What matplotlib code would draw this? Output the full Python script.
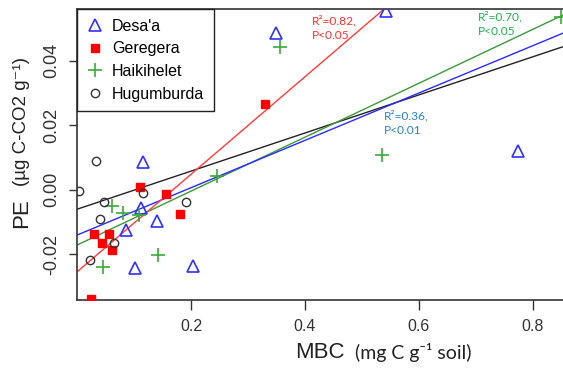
import numpy as np
import matplotlib
matplotlib.use("Agg")
import matplotlib.pyplot as plt

# data (MBC in mg C/g soil, PE in ug C-CO2/g)
desaa_x = [0.116, 0.112, 0.140, 0.086, 0.102, 0.204, 0.349, 0.543, 0.774]
desaa_y = [0.0087, -0.0056, -0.0097, -0.0124, -0.0242, -0.0236, 0.0486, 0.0555, 0.0121]

geregera_x = [0.111, 0.156, 0.181, 0.030, 0.057, 0.044, 0.061, 0.024, 0.330]
geregera_y = [0.0008, -0.0014, -0.0074, -0.0138, -0.0137, -0.0165, -0.0186, -0.0337, 0.0265]

haik_x = [0.062, 0.080, 0.109, 0.046, 0.143, 0.246, 0.357, 0.536, 0.849]
haik_y = [-0.0050, -0.0072, -0.0078, -0.0238, -0.0203, 0.0044, 0.0443, 0.0107, 0.0535]

hug_x = [0.033, 0.003, 0.047, 0.040, 0.116, 0.065, 0.022, 0.192]
hug_y = [0.0089, -0.0004, -0.0037, -0.0090, -0.0009, -0.0163, -0.0217, -0.0037]

# fitted lines (intercept, slope) as drawn in the figure
fit_desaa = (-0.0140, 0.0733)
fit_geregera = (-0.0254, 0.151)
fit_haik = (-0.0171, 0.0835)
fit_hug = (-0.0060, 0.059)

W, H = 563, 369
fig = plt.figure(figsize=(W / 100, H / 100), dpi=100)
ax = fig.add_axes([77 / W, 1 - 300 / H, 1 - 77 / W, (300 - 9) / H])

xlim = (0.0, 0.853)
ylim = (-0.0341, 0.0560)
xx = np.array(xlim)

# regression lines
ax.plot(xx, fit_hug[0] + fit_hug[1] * xx, color="#222222", lw=1.0, zorder=2)
ax.plot(xx, fit_haik[0] + fit_haik[1] * xx, color="#3c9a3c", lw=1.0, zorder=2)
ax.plot(xx, fit_desaa[0] + fit_desaa[1] * xx, color="#2a2aff", lw=1.0, zorder=2)
ax.plot(xx, fit_geregera[0] + fit_geregera[1] * xx, color="#ff3b3b", lw=1.0, zorder=2)

# points
h1, = ax.plot(desaa_x, desaa_y, ls="none", marker="^", ms=8, mfc="none",
              mec="#3030ff", mew=1.2, label="Desa'a", zorder=3)
h2, = ax.plot(geregera_x, geregera_y, ls="none", marker="s", ms=6, mfc="#ff0000",
              mec="#ff0000", label="Geregera", zorder=3)
h3, = ax.plot(haik_x, haik_y, ls="none", marker="+", ms=10, mec="#3aaa3a",
              mew=1.2, label="Haikihelet", zorder=3)
h4, = ax.plot(hug_x, hug_y, ls="none", marker="o", ms=6, mfc="none",
              mec="#333333", mew=1.0, label="Hugumburda", zorder=3)

ax.set_xlim(xlim)
ax.set_ylim(ylim)
ax.set_xticks([0.2, 0.4, 0.6, 0.8])
ax.set_xticklabels(["0.2", "0.4", "0.6", "0.8"])
ax.set_yticks([-0.02, 0.0, 0.02, 0.04])
ax.set_yticklabels(["-0.02", "0.00", "0.02", "0.04"], rotation=90, va="center")

for s in ["left", "bottom", "top"]:
    ax.spines[s].set_color("#333333")
    ax.spines[s].set_linewidth(1.2)
ax.spines["right"].set_visible(False)

ax.tick_params(axis="x", direction="out", length=7, width=1.0, color="#333333",
               pad=7, labelsize=11.5, labelcolor="#333333")
ax.tick_params(axis="y", direction="out", length=6, width=1.0, color="#333333",
               pad=6, labelsize=13, labelcolor="#333333")
for lab in ax.get_xticklabels() + ax.get_yticklabels():
    lab.set_fontfamily("Liberation Sans")

leg = ax.legend(handles=[h1, h2, h3, h4], loc="upper left", bbox_to_anchor=(0, 1),
                borderaxespad=0, fancybox=False, framealpha=1, edgecolor="#222222",
                prop={"family": "Liberation Sans", "size": 11.5},
                handlelength=1.0, handletextpad=0.6, labelspacing=0.48,
                borderpad=0.6)
leg.get_frame().set_linewidth(1.0)
leg.set_zorder(5)

# annotations
ann_font = ["Lato", "DejaVu Sans"]
ax.text((312 - 77) / 570, (189.8 - 28) / 3230, "R²=0.82,\nP<0.05", color="#ff3030",
        fontsize=8.6, family=ann_font, va="center", linespacing=1.45)
ax.text((478 - 77) / 570, (189.8 - 24) / 3230, "R²=0.70,\nP<0.05", color="#22b050",
        fontsize=8.6, family=ann_font, va="center", linespacing=1.45)
ax.text((384 - 77) / 570, (189.8 - 123) / 3230, "R²=0.36,\nP<0.01", color="#2a80d0",
        fontsize=8.6, family=ann_font, va="center", linespacing=1.45)

# axis labels, two font sizes each
fig.text(295 / W, 1 - 352 / H, "MBC", fontsize=16, family="Liberation Sans",
         color="#222222", ha="left", va="center")
fig.text(355 / W, 1 - 352 / H, "(mg C g⁻¹ soil)", fontsize=14, family=ann_font,
         color="#222222", ha="left", va="center")
fig.text(22 / W, 1 - 228 / H, "PE", fontsize=16, family="Liberation Sans",
         color="#222222", rotation=90, ha="center", va="bottom")
fig.text(22 / W, 1 - 186 / H, "(µg C-CO2 g⁻¹)", fontsize=13.5,
         family=["Liberation Sans", "DejaVu Sans"], color="#222222",
         rotation=90, ha="center", va="bottom")

fig.savefig("out.png", dpi=100)
